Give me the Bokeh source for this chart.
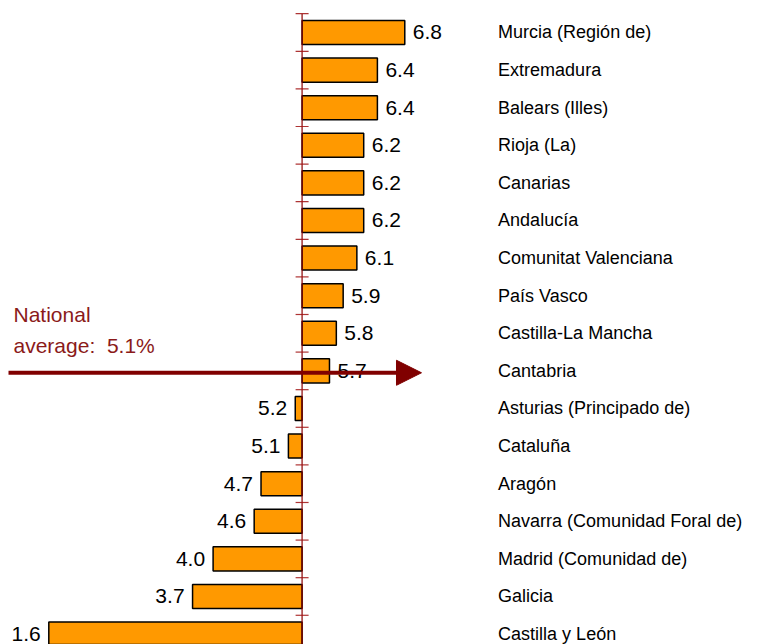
from bokeh.plotting import figure
from bokeh.models import Range1d, Arrow, NormalHead, ColumnDataSource
from bokeh.embed import file_html
from bokeh.resources import INLINE
from bokeh.core.properties import value

# ---- data ----
regions = ["Murcia (Región de)", "Extremadura", "Balears (Illes)", "Rioja (La)",
           "Canarias", "Andalucía", "Comunitat Valenciana", "País Vasco",
           "Castilla-La Mancha", "Cantabria", "Asturias (Principado de)",
           "Cataluña", "Aragón", "Navarra (Comunidad Foral de)",
           "Madrid (Comunidad de)", "Galicia", "Castilla y León"]
rates = [6.8, 6.4, 6.4, 6.2, 6.2, 6.2, 6.1, 5.9, 5.8, 5.7,
         5.2, 5.1, 4.7, 4.6, 4.0, 3.7, 1.6]
baseline = 5.3
national_average = 5.1
arrow_region = "Cantabria"

FONT = "Liberation Sans"
DARKRED = "#8B0000"

X0, X1 = 0.8945, 11.923
Y_TOP, Y_BOT = -0.851, 16.277

idx = list(range(len(regions)))
src = ColumnDataSource(dict(
    y=idx,
    rate=rates,
    base=[baseline] * len(rates),
    region=regions,
    lbl=[f"{v:.1f}" for v in rates],
    align=["left" if v >= baseline else "right" for v in rates],
    xoff=[8 if v >= baseline else -8 for v in rates],
))

p = figure(width=755, height=644, output_backend="svg", toolbar_location=None,
           x_range=Range1d(X0, X1), y_range=Range1d(Y_BOT, Y_TOP),
           x_axis_type=None, y_axis_type=None, min_border=0)
p.grid.visible = False
p.outline_line_color = None
p.background_fill_color = "white"

# bars
p.hbar(y="y", left="base", right="rate", height=0.64, source=src,
       fill_color="#FF9900", line_color="black", line_width=1.5)

# vertical axis line with ticks between categories
p.segment(x0=[baseline], x1=[baseline], y0=[-0.5], y1=[len(regions) + 0.5],
          line_color=DARKRED, line_width=1.5, line_alpha=0.8)
p.scatter(x=[baseline] * (len(regions) + 1), y=[i - 0.5 for i in range(len(regions) + 1)],
          marker="dash", size=13, line_color="#A01010", line_width=1.2, line_alpha=0.85)

# value labels
p.text(x="rate", y="y", text="lbl", source=src, text_align="align", x_offset="xoff",
       text_baseline="middle", text_font=value(FONT), text_font_size="21px",
       text_color="black")

# category labels
p.text(x="base", y="y", text="region", source=src, x_offset=196,
       text_align="left", text_baseline="middle", text_font=value(FONT),
       text_font_size="18px", text_color="black")

# national average annotation
ay = regions.index(arrow_region) + 0.05
p.add_layout(Arrow(end=NormalHead(size=25, fill_color="#800000", line_color="#800000"),
                   x_start=X0 + 0.117, y_start=ay, x_end=7.044, y_end=ay,
                   line_color="#800000", line_width=4))
p.text(x=[X0, X0], y=[ay - 1.55, ay - 0.72],
       text=["National", f"average:\u00a0 {national_average}%"],
       x_offset=13, text_align="left", text_baseline="middle",
       text_font=value(FONT), text_font_size="21px", text_color="#8B1A1A")

open("out.html", "w").write(file_html(p, INLINE))
